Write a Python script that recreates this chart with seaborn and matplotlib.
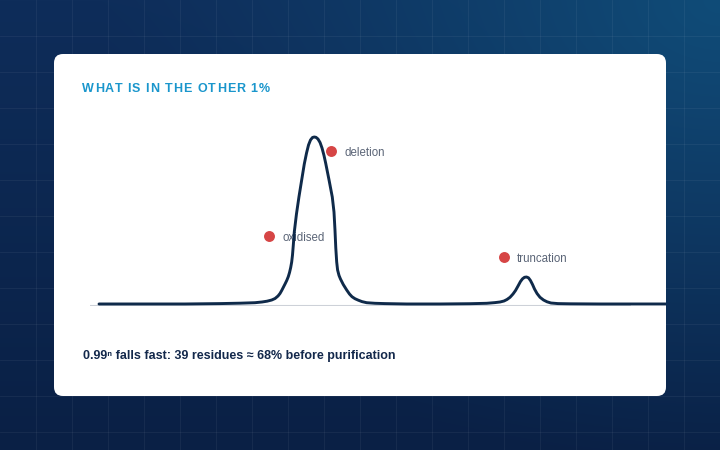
import numpy as np
import pandas as pd
import seaborn as sns
import matplotlib.pyplot as plt
from matplotlib.patches import FancyBboxPatch
from matplotlib.font_manager import FontProperties

W, H = 720, 450

# chromatogram trace (retention, a.u. / signal, % of main peak)
retention = [1.0, 5.56, 10.56, 14.44, 16.67, 18.33, 19.11, 19.67, 20.19, 20.56,
             20.89, 21.11, 21.30, 21.50, 21.67, 21.86, 22.03, 22.17, 22.30, 22.41,
             22.50, 22.59, 22.70, 22.94, 23.22, 23.52, 23.81, 24.06, 24.28, 24.50,
             24.72, 24.92, 25.11, 25.33, 25.56, 25.78, 26.00, 26.19, 26.56, 26.92,
             27.11, 27.22, 27.31, 27.41, 27.51, 27.67, 27.83, 28.14, 28.52, 28.83,
             29.11, 29.44, 29.81, 30.22, 30.74, 31.67, 32.78, 35.19, 38.89, 42.22,
             44.08, 45.0, 45.56, 46.0, 46.33, 46.67, 47.0, 47.28, 47.56, 47.83,
             48.06, 48.28, 48.5, 48.72, 48.94, 49.17, 49.39, 49.67, 50.0, 50.39,
             50.78, 51.22, 52.0, 53.33, 56.67, 64.0]
signal = [0.9, 0.9, 0.9, 1.13, 1.37, 1.66, 2.08, 2.55, 3.26, 4.15,
          5.64, 7.12, 8.90, 10.98, 12.76, 14.84, 17.09, 19.58, 22.55, 25.82,
          29.97, 35.91, 43.62, 54.30, 64.57, 74.48, 83.98, 90.50, 95.25, 98.22,
          99.70, 100.0, 99.8, 98.81, 96.74, 93.47, 89.02, 84.39, 74.48, 64.39,
          55.49, 44.81, 34.12, 25.82, 21.07, 17.80, 15.73, 12.46, 9.20, 6.82,
          5.22, 4.04, 3.15, 2.31, 1.66, 1.31, 1.13, 0.9, 0.9, 1.07,
          1.31, 1.72, 2.08, 2.67, 3.56, 4.87, 6.82, 8.90, 11.57, 14.24,
          15.85, 16.74, 16.91, 16.44, 14.84, 12.46, 9.79, 7.12, 4.87, 3.26,
          2.20, 1.48, 1.13, 1.01, 0.9, 0.9]

impurity_names = ["oxidised", "deletion", "truncation"]
impurity_rt = [19.9, 26.8, 46.0]
impurity_level = [41.2, 91.7, 28.6]

title = "WHAT IS IN THE OTHER 1%"
caption = "0.99\u207f falls fast: 39 residues \u2248 68% before purification"

trace = pd.DataFrame({"retention": retention, "signal": signal})
marks = pd.DataFrame({"retention": impurity_rt, "signal": impurity_level,
                      "name": impurity_names})

sns.set_theme(style="white")
plt.rcParams["font.family"] = ["Liberation Sans", "DejaVu Sans"]

fig = plt.figure(figsize=(W / 100, H / 100), dpi=100)

# background: navy gradient, faint grid, white card
bg = fig.add_axes([0, 0, 1, 1])
bg.set_xlim(0, W)
bg.set_ylim(H, 0)
bg.axis("off")
yy, xx = np.mgrid[0:H, 0:W]
top = np.array([0x0e, 0x2d, 0x5a]) / 255
bottom = np.array([0x0a, 0x20, 0x45]) / 255
glow = np.array([0x10, 0x4c, 0x78]) / 255
t = (yy / H)[..., None]
img = top * (1 - t) + bottom * t
d = np.hypot(xx - W, yy * 1.3) / 620
wgt = np.clip(1 - d, 0, 1)[..., None] ** 1.2
img = img * (1 - wgt) + glow * wgt
bg.imshow(img, extent=[0, W, H, 0], aspect="auto", zorder=0)
for v in range(36, W, 36):
    bg.axvline(v, color="white", alpha=0.05, lw=0.8, zorder=1)
for v in range(36, H, 36):
    bg.axhline(v, color="white", alpha=0.05, lw=0.8, zorder=1)
bg.add_patch(FancyBboxPatch((54, 54), 612, 342,
                            boxstyle="round,pad=0,rounding_size=9",
                            fc="white", ec="none", zorder=2))

# letter-spaced title
renderer = fig.canvas.get_renderer()
fp = FontProperties(family=["Liberation Sans", "DejaVu Sans"], weight="bold", size=9)


def text_w(s):
    w, _, _ = renderer.get_text_width_height_descent(s + "x", fp, ismath=False)
    wx, _, _ = renderer.get_text_width_height_descent("x", fp, ismath=False)
    return w - wx


x0 = 82
for i, ch in enumerate(title):
    xpos = x0 + text_w(title[:i]) + i * 1.0
    fig.text(xpos / W, 1 - 88.5 / H, ch, fontproperties=fp, color="#1a96cc",
             ha="left", va="center")

fig.text(83 / W, 1 - 356.5 / H, caption, fontsize=9, fontweight="bold",
         color="#13284b", ha="left", va="center")

# chromatogram
ax = fig.add_axes([90 / W, (H - 305.5) / H, 576 / W, 185.35 / H])
ax.patch.set_alpha(0)
ax.set_xlim(0, 64)
ax.set_ylim(0, 110)
ax.axhline(0, xmin=0, xmax=540 / 576, color="#cdd1d8", lw=1.5, zorder=1)
sns.lineplot(data=trace, x="retention", y="signal", ax=ax, color="#0f2a4a",
             lw=2.1, sort=False, zorder=3, solid_joinstyle="round",
             solid_capstyle="round")
sns.scatterplot(data=marks, x="retention", y="signal", ax=ax, color="#d64545",
                s=62, linewidth=0, zorder=4)
for _, row in marks.iterrows():
    ax.annotate(row["name"], (row["retention"], row["signal"]),
                xytext=(9.5, -1.2), textcoords="offset points", ha="left",
                va="center", fontsize=8.3, color="#5b6577", zorder=2)
ax.set_xlabel("")
ax.set_ylabel("")
ax.set_xticks([])
ax.set_yticks([])
sns.despine(ax=ax, left=True, bottom=True)

fig.savefig("out.png", dpi=100)
